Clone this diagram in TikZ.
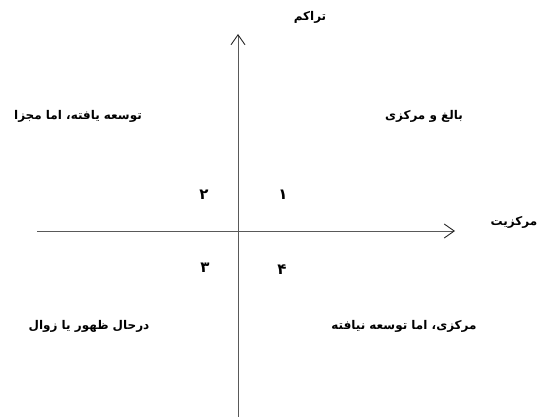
\documentclass[tikz,border=0pt]{standalone}
\usepackage{fontspec}
\newfontfamily\arabicfont[Script=Arabic]{DejaVu Sans}
\TeXXeTstate=1
\usetikzlibrary{arrows.meta}
\tikzset{
  axis/.style={draw=black!65, line width=0.7pt, -{Straight Barb[length=10pt,width=14pt,line width=0.9pt,color=black!85]}},
  lbl/.style={font=\arabicfont\bfseries\fontsize{12}{14}\selectfont, inner sep=1pt},
  num/.style={font=\arabicfont\bfseries\fontsize{15}{17}\selectfont, inner sep=1pt}
}
\begin{document}
\begin{tikzpicture}[x=1pt,y=-1pt]
    \useasboundingbox (0,0) rectangle (541,417);
    % axis end points
    \coordinate (xs) at (37,231);
    \coordinate (xe) at (455,231);
    \coordinate (ys) at (238,417);
    \coordinate (ye) at (238,34);
    %axis
    \draw[axis] (xs) -- (xe);
    \draw[axis] (ys) -- (ye);
    % axis titles
    \node[lbl] (ytitle) at (310,17) {\beginR تراکم\endR};
    \node[lbl] (xtitle) at (514,222) {\beginR مرکزیت\endR};
    % quadrant names
    \node[lbl] (q2) at (78,116) {\beginR توسعه یافته، اما مجزا\endR};
    \node[lbl] (q1) at (424,116) {\beginR بالغ و مرکزی\endR};
    \node[lbl] (q3) at (89,326) {\beginR درحال ظهور یا زوال\endR};
    \node[lbl] (q4) at (404,326) {\beginR مرکزی، اما توسعه نیافته\endR};
    % quadrant numbers
    \node[num] (n2) at (204,195) {\beginR ۲\endR};
    \node[num] (n1) at (283,195) {\beginR ۱\endR};
    \node[num] (n3) at (205,268) {\beginR ۳\endR};
    \node[num] (n4) at (282,270) {\beginR ۴\endR};
\end{tikzpicture}
\end{document}
